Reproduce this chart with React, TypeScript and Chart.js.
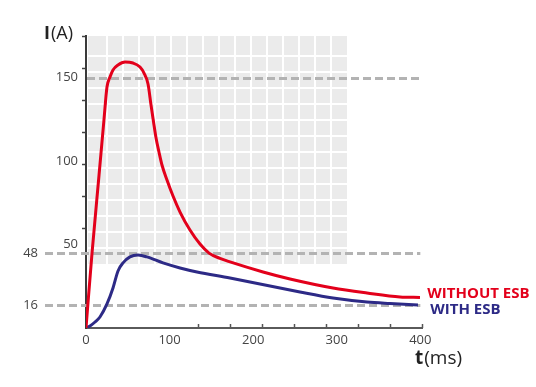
import React, { useEffect, useRef } from 'react';
import { Chart, registerables } from 'chart.js';

Chart.register(...registerables);

// ---- data (time in ms, current in A) ----
const redT = [0, 7.2, 15.6, 21.5, 25.1, 28.7, 32.3, 38.3, 46.7, 56.2, 64.6, 69.4, 74.2, 77.8, 80.8, 83.8, 87.3, 90.9, 96.9, 104.1, 112.5, 124.4, 136.4, 147.2, 160.3, 172.3, 211.8, 244.1, 295.5, 336.2, 375.7, 399.6];
const redI = [0, 44.9, 91.7, 124.7, 144.4, 150.4, 154.6, 157.6, 159.4, 158.8, 156.4, 152.8, 146.2, 133.6, 123.5, 113.9, 105.5, 97.7, 88.7, 79.1, 69.5, 58.7, 50.3, 44.9, 41.7, 39.6, 33.6, 29.4, 24.0, 21.0, 18.6, 18.3];
const blueT = [0, 4.8, 10.8, 16.7, 25.1, 32.3, 38.3, 44.3, 52.6, 62.2, 73.0, 92.1, 112.5, 132.8, 172.3, 256.0, 295.5, 336.2, 363.7, 397.2];
const blueI = [0, 1.2, 3.6, 6.6, 14.4, 24.0, 34.2, 39.0, 42.6, 43.7, 42.6, 39.0, 36.0, 33.6, 30.0, 21.6, 18.0, 15.6, 14.7, 13.8];
const seriesNames = ['WITHOUT ESB', 'WITH ESB'];
const xTickValues = [0, 100, 200, 300, 400];
const yTickValues = [50, 100, 150];
const xMarkTicks = [4, 5, 6, 7, 8, 9, 10, 11];
const yMarkTicks = [3, 4, 5, 6, 7, 8, 9];
const refLineValues = [150, 44.9, 13.8];
const refLineLabels = ['', '48', '16'];
const panelXMax = 312.3;
const panelYMin = 38.4;

const RED = '#e3001b';
const BLUE = '#2d2a86';
const FONT = '"Open Sans", "DejaVu Sans", sans-serif';

const decorPlugin = {
  id: 'decor',
  beforeDraw(chart: any) {
    const { ctx, chartArea, scales } = chart;
    const x = scales.x;
    const y = scales.y;
    const left = chartArea.left + 2;
    const right = Math.round(x.getPixelForValue(panelXMax));
    const top = chartArea.top;
    const bottom = Math.round(y.getPixelForValue(panelYMin));
    ctx.save();
    ctx.fillStyle = '#ebebeb';
    ctx.fillRect(left, top, right - left, bottom - top);
    ctx.strokeStyle = '#ffffff';
    ctx.lineWidth = 2;
    ctx.beginPath();
    for (let gx = left + 19; gx < right - 4; gx += 16) {
      ctx.moveTo(gx, top);
      ctx.lineTo(gx, bottom);
    }
    for (let gy = top + 20; gy < bottom - 4; gy += 16) {
      ctx.moveTo(left, gy);
      ctx.lineTo(right, gy);
    }
    ctx.stroke();
    ctx.restore();
  },
  beforeDatasetsDraw(chart: any) {
    const { ctx, chartArea, scales } = chart;
    const x = scales.x;
    const y = scales.y;
    const xEnd = x.getPixelForValue(400);
    ctx.save();
    ctx.strokeStyle = '#b3b3b3';
    ctx.lineWidth = 3;
    ctx.setLineDash([8, 4]);
    refLineValues.forEach((v, i) => {
      const py = Math.round(y.getPixelForValue(v)) + 0.5;
      const xStart = refLineLabels[i] ? chartArea.left - 41 : chartArea.left + 1;
      ctx.beginPath();
      ctx.moveTo(xStart, py);
      ctx.lineTo(xEnd, py);
      ctx.stroke();
    });
    ctx.setLineDash([]);
    ctx.fillStyle = '#444444';
    ctx.font = `13px ${FONT}`;
    ctx.textAlign = 'right';
    ctx.textBaseline = 'middle';
    refLineValues.forEach((v, i) => {
      if (!refLineLabels[i]) return;
      ctx.fillText(refLineLabels[i], chartArea.left - 48, y.getPixelForValue(v));
    });
    ctx.restore();
  },
  afterDraw(chart: any) {
    const { ctx, scales } = chart;
    const x = scales.x;
    const y = scales.y;
    ctx.save();
    ctx.textBaseline = 'alphabetic';
    ctx.textAlign = 'left';
    ctx.fillStyle = '#222222';
    // y title
    ctx.font = `bold 18px ${FONT}`;
    ctx.fillText('I', 44, 39);
    let w = ctx.measureText('I').width;
    ctx.font = `18px ${FONT}`;
    ctx.fillText('(A)', 44 + w + 1, 39);
    // x title
    ctx.font = `bold 19px ${FONT}`;
    ctx.fillText('t', 415, 364);
    w = ctx.measureText('t').width;
    ctx.font = `19px ${FONT}`;
    ctx.fillText('(ms)', 415 + w + 1, 364);
    // series labels
    const xe = x.getPixelForValue(400);
    ctx.font = `bold 15px ${FONT}`;
    ctx.fillStyle = RED;
    ctx.fillText(seriesNames[0], xe + 7, y.getPixelForValue(redI[redI.length - 1]) + 1);
    ctx.fillStyle = BLUE;
    ctx.fillText(seriesNames[1], xe + 10, y.getPixelForValue(blueI[blueI.length - 1]) + 9);
    ctx.restore();
  },
};

export default function App() {
  const canvasRef = useRef<HTMLCanvasElement | null>(null);

  useEffect(() => {
    const canvas = canvasRef.current;
    if (!canvas) return;
    const chart = new Chart(canvas, {
      type: 'line',
      data: {
        datasets: [
          {
            label: seriesNames[0],
            data: redT.map((t, i) => ({ x: t, y: redI[i] })),
            borderColor: RED,
            borderWidth: 3,
            pointRadius: 0,
            fill: false,
            cubicInterpolationMode: 'monotone',
            order: 0,
          },
          {
            label: seriesNames[1],
            data: blueT.map((t, i) => ({ x: t, y: blueI[i] })),
            borderColor: BLUE,
            borderWidth: 3,
            pointRadius: 0,
            fill: false,
            cubicInterpolationMode: 'monotone',
            order: 1,
          },
        ],
      },
      options: {
        responsive: false,
        animation: false,
        devicePixelRatio: 1,
        layout: { padding: { left: 0, top: 36, right: 114, bottom: 0 } },
        plugins: { legend: { display: false }, tooltip: { enabled: false } },
        scales: {
          x: {
            type: 'linear',
            position: 'bottom',
            weight: 1,
            min: 0,
            max: 402,
            afterBuildTicks: (s: any) => {
              s.ticks = xTickValues.map((v) => ({ value: v }));
            },
            afterFit: (s: any) => {
              s.height = 59;
            },
            grid: { display: false, drawTicks: false },
            border: { display: true, color: '#5a5a5a', width: 2 },
            ticks: {
              color: '#444444',
              font: { family: FONT, size: 13 },
              padding: 4,
              maxRotation: 0,
              autoSkip: false,
            },
          },
          x2: {
            type: 'linear',
            position: 'bottom',
            weight: 0,
            min: 0.5,
            max: 11,
            afterBuildTicks: (s: any) => {
              s.ticks = xMarkTicks.map((v) => ({ value: v }));
            },
            afterFit: (s: any) => {
              s.height = 0;
            },
            grid: {
              display: true,
              drawOnChartArea: false,
              drawTicks: true,
              tickLength: -4,
              tickColor: '#555555',
              tickWidth: 1.5,
            },
            border: { display: false },
            ticks: { display: false },
          },
          y: {
            type: 'linear',
            position: 'left',
            weight: 1,
            min: 0,
            max: 175,
            afterBuildTicks: (s: any) => {
              s.ticks = yTickValues.map((v) => ({ value: v }));
            },
            afterFit: (s: any) => {
              s.width = 86;
            },
            grid: { display: false, drawTicks: false },
            border: { display: true, color: '#3a3a3a', width: 2 },
            ticks: {
              color: '#444444',
              font: { family: FONT, size: 13 },
              padding: 8,
            },
          },
          y2: {
            type: 'linear',
            position: 'left',
            weight: 0,
            min: -0.125,
            max: 9,
            afterBuildTicks: (s: any) => {
              s.ticks = yMarkTicks.map((v) => ({ value: v }));
            },
            afterFit: (s: any) => {
              s.width = 0;
            },
            grid: {
              display: true,
              drawOnChartArea: false,
              drawTicks: true,
              tickLength: 4,
              tickColor: '#444444',
              tickWidth: 1.5,
            },
            border: { display: false },
            ticks: { display: false },
          },
        },
      },
      plugins: [decorPlugin],
    } as any);
    return () => chart.destroy();
  }, []);

  return (
    <div style={{ position: 'fixed', left: 0, top: 0, width: 536, height: 387, background: '#ffffff' }}>
      <canvas ref={canvasRef} width={536} height={387} style={{ display: 'block' }} />
    </div>
  );
}
